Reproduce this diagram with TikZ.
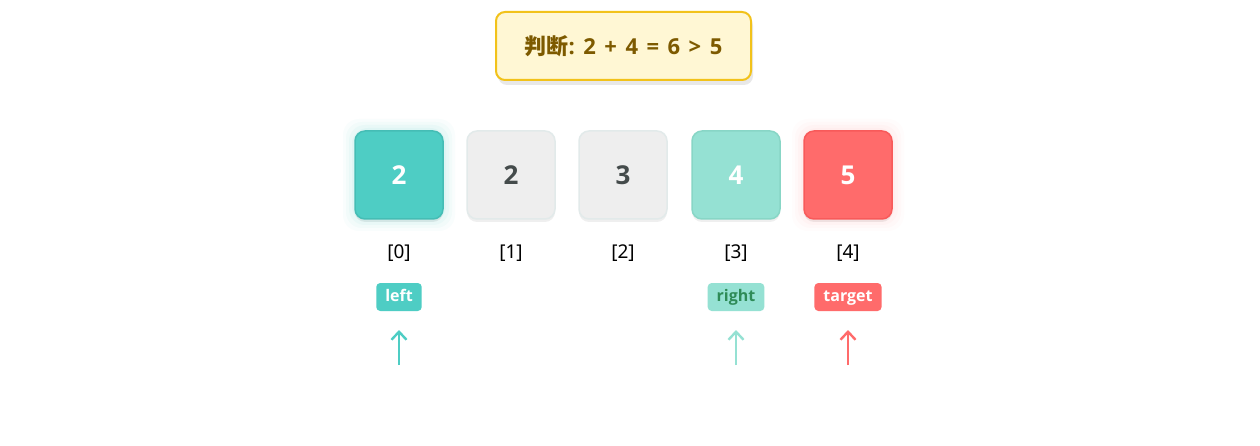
\documentclass[tikz,border=0pt]{standalone}
\usepackage{fontspec}
\setmainfont{Noto Sans}
\newfontfamily\cjk{Noto Sans CJK SC}
\newfontfamily\bsans{Open Sans}
\usetikzlibrary{shadows,arrows.meta}
\definecolor{teal}{HTML}{4ECDC4}
\definecolor{tealdark}{HTML}{45BDB5}
\definecolor{mint}{HTML}{95E1D3}
\definecolor{mintdark}{HTML}{88D6C6}
\definecolor{coral}{HTML}{FF6B6B}
\definecolor{coraldark}{HTML}{F85A5A}
\definecolor{greybox}{HTML}{EEEEEE}
\definecolor{greyborder}{HTML}{E2EAEA}
\definecolor{digitgrey}{HTML}{444B4B}
\definecolor{titlefill}{HTML}{FFF7D4}
\definecolor{titleborder}{HTML}{F2C21A}
\definecolor{titletext}{HTML}{7D5A00}
\definecolor{rightgreen}{HTML}{2E8B57}
\tikzset{
  cell/.style={rounded corners=10pt, minimum width=88pt, minimum height=88pt, line width=1.5pt,
    font=\bsans\bfseries\fontsize{26}{30}\selectfont, inner sep=0pt,
    drop shadow={opacity=0.12, shadow xshift=0pt, shadow yshift=-3pt}},
  idx/.style={font=\fontsize{19}{22}\selectfont, text=black, inner sep=0pt},
  tag/.style={rounded corners=4pt, minimum height=28pt, inner xsep=9pt, inner ysep=0pt,
    text height=11.5pt, text depth=3.5pt,
    font=\bsans\bfseries\fontsize{16}{18}\selectfont},
  ptr/.style={line width=2.6pt, -{Straight Barb[length=8pt,width=15pt,line width=2.4pt]}},
}
\newcommand\tsp{\hspace{8.5pt}}
\begin{document}
\begin{tikzpicture}[x=1pt,y=-1pt]
\useasboundingbox (0,0) rectangle (1260,446);
\fill[white] (0,0) rectangle (1260,446);
% title
\node[draw=titleborder, fill=titlefill, line width=2pt, rounded corners=9pt,
  minimum width=255pt, minimum height=68pt,
  drop shadow={opacity=0.18, shadow xshift=2pt, shadow yshift=-5pt},
  text=titletext, font=\bfseries\fontsize{22}{26}\selectfont] (title) at (623.5,46)
  {\raisebox{-2pt}{{\cjk 判断}{\bsans:\tsp2\tsp+\tsp4\tsp=\tsp6\tsp>\tsp5}}};
% glows
\foreach \g/\o in {12/0.03,9/0.04,6/0.05,3/0.06}{
  \fill[teal, opacity=\o, rounded corners=16pt] (399-44-\g,175-44-\g) rectangle (399+44+\g,175+44+\g);
  \fill[coral!60, opacity=\o, rounded corners=16pt] (848-44-\g,175-44-\g) rectangle (848+44+\g,175+44+\g);
}
% cells
\node[cell, fill=teal, draw=tealdark, text=white] (c0) at (399,175) {2};
\node[cell, fill=greybox, draw=greyborder, text=digitgrey] (c1) at (511,175) {2};
\node[cell, fill=greybox, draw=greyborder, text=digitgrey] (c2) at (623,175) {3};
\node[cell, fill=mint, draw=mintdark, text=white] (c3) at (736,175) {4};
\node[cell, fill=coral, draw=coraldark, text=white] (c4) at (848,175) {5};
% indices
\node[idx] (i0) at (399,253) {[0]};
\node[idx] (i1) at (511,253) {[1]};
\node[idx] (i2) at (623,253) {[2]};
\node[idx] (i3) at (736,253) {[3]};
\node[idx] (i4) at (848,253) {[4]};
% tags
\node[tag, fill=teal, text=white] (tl) at (399,297) {left};
\node[tag, fill=mint, text=rightgreen] (tr) at (736,297) {right};
\node[tag, fill=coral, text=white] (tt) at (848,297) {target};
% pointers
\coordinate (a0s) at (399,365); \coordinate (a0e) at (399,330);
\coordinate (a3s) at (736,365); \coordinate (a3e) at (736,330);
\coordinate (a4s) at (848,365); \coordinate (a4e) at (848,330);
\draw[ptr, teal] (a0s) -- (a0e);
\draw[ptr, mint] (a3s) -- (a3e);
\draw[ptr, coral] (a4s) -- (a4e);
\end{tikzpicture}
\end{document}
